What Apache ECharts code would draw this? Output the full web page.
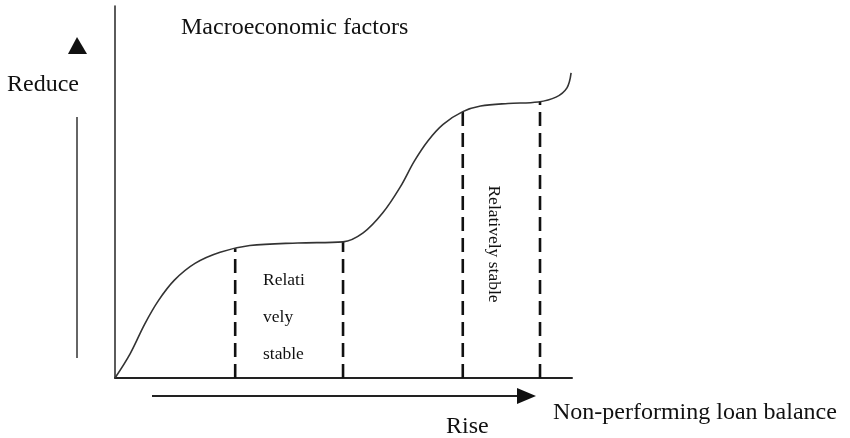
<!DOCTYPE html>
<html>
<head>
<meta charset="utf-8">
<script src="https://cdn.jsdelivr.net/npm/echarts@6/dist/echarts.min.js"></script>
<style>
  html, body { margin: 0; padding: 0; background: #fff; }
  #main { width: 850px; height: 438px; }
</style>
</head>
<body>
<div id="main"></div>
<script>
// curve of the relationship (x: loan balance, y: macro factors), arbitrary 0-100 units
var curveX = [0, 3.3, 6.5, 9.5, 13, 17.5, 23, 29.5, 40, 49.9, 54.3, 58.6, 62.4, 65.5, 68.5, 71.8, 76.1, 80, 86, 92.6, 96.5, 98.9, 99.8];
var curveY = [0, 6.5, 14.5, 20.8, 26.3, 30.8, 33.8, 35.6, 36.3, 36.6, 39, 44.4, 51.3, 58.3, 63.8, 68.2, 71.6, 73.1, 73.8, 74.2, 75.5, 78, 82];

// dashed dividers marking the stable stretches
var dividerX = [26.3, 49.9, 76.1, 93.0];
var dividerTop = [34.9, 36.6, 71.6, 74.2];

var titleText = 'Macroeconomic factors';
var yText = 'Reduce';
var xText = 'Non-performing loan balance';
var riseText = 'Rise';
var stableLines = ['Relati', 'vely', 'stable'];
var stableText = 'Relatively stable';

var serif = "'Liberation Serif', 'Times New Roman', serif";

function drawChart() {
    var myChart = echarts.init(document.getElementById('main'));

    var curve = [];
    for (var i = 0; i < curveX.length; i++) {
        curve.push([curveX[i], curveY[i]]);
    }

    var series = [{
        name: 'curve',
        type: 'line',
        data: curve,
        smooth: 0.35,
        showSymbol: false,
        lineStyle: { color: '#333', width: 1.6 },
        z: 3
    }];

    for (var j = 0; j < dividerX.length; j++) {
        series.push({
            name: 'divider' + j,
            type: 'line',
            data: [[dividerX[j], 0], [dividerX[j], dividerTop[j]]],
            showSymbol: false,
            lineStyle: { color: '#111', width: 2.6, type: [14, 7] },
            z: 2
        });
    }

    var graphic = [
        { type: 'text', left: 181, top: 16, style: { text: titleText, font: '24px ' + serif, fill: '#111' } },
        { type: 'text', left: 7, top: 73, style: { text: yText, font: '24px ' + serif, fill: '#111' } },
        { type: 'text', left: 553, top: 401, style: { text: xText, font: '24px ' + serif, fill: '#111' } },
        { type: 'text', left: 446, top: 415, style: { text: riseText, font: '24px ' + serif, fill: '#111' } },
        // left arrow
        { type: 'line', shape: { x1: 77, y1: 117, x2: 77, y2: 358 }, style: { stroke: '#666', lineWidth: 2 } },
        { type: 'polygon', shape: { points: [[77, 37], [68, 54], [87, 54]] }, style: { fill: '#111' } },
        // bottom arrow
        { type: 'line', shape: { x1: 152, y1: 396, x2: 520, y2: 396 }, style: { stroke: '#222', lineWidth: 2 } },
        { type: 'polygon', shape: { points: [[517, 388], [536, 396], [517, 404]] }, style: { fill: '#111' } },
        // rotated label
        { type: 'text', x: 494, y: 244, rotation: -Math.PI / 2,
          style: { text: stableText, font: '17.5px ' + serif, fill: '#111', align: 'center', verticalAlign: 'middle' } }
    ];
    for (var k = 0; k < stableLines.length; k++) {
        graphic.push({ type: 'text', left: 263, top: 271 + k * 37,
            style: { text: stableLines[k], font: '17.5px ' + serif, fill: '#111' } });
    }

    var option = {
        animation: false,
        backgroundColor: '#fff',
        grid: { left: 115, right: 278, top: 6, bottom: 60 },
        xAxis: {
            type: 'value', min: 0, max: 100,
            axisLine: { show: true, lineStyle: { color: '#222', width: 2 } },
            axisTick: { show: false },
            axisLabel: { show: false },
            splitLine: { show: false }
        },
        yAxis: {
            type: 'value', min: 0, max: 100,
            axisLine: { show: true, lineStyle: { color: '#333', width: 1.6 } },
            axisTick: { show: false },
            axisLabel: { show: false },
            splitLine: { show: false }
        },
        series: series,
        graphic: graphic
    };

    myChart.setOption(option);
}

drawChart();
</script>
</body>
</html>
